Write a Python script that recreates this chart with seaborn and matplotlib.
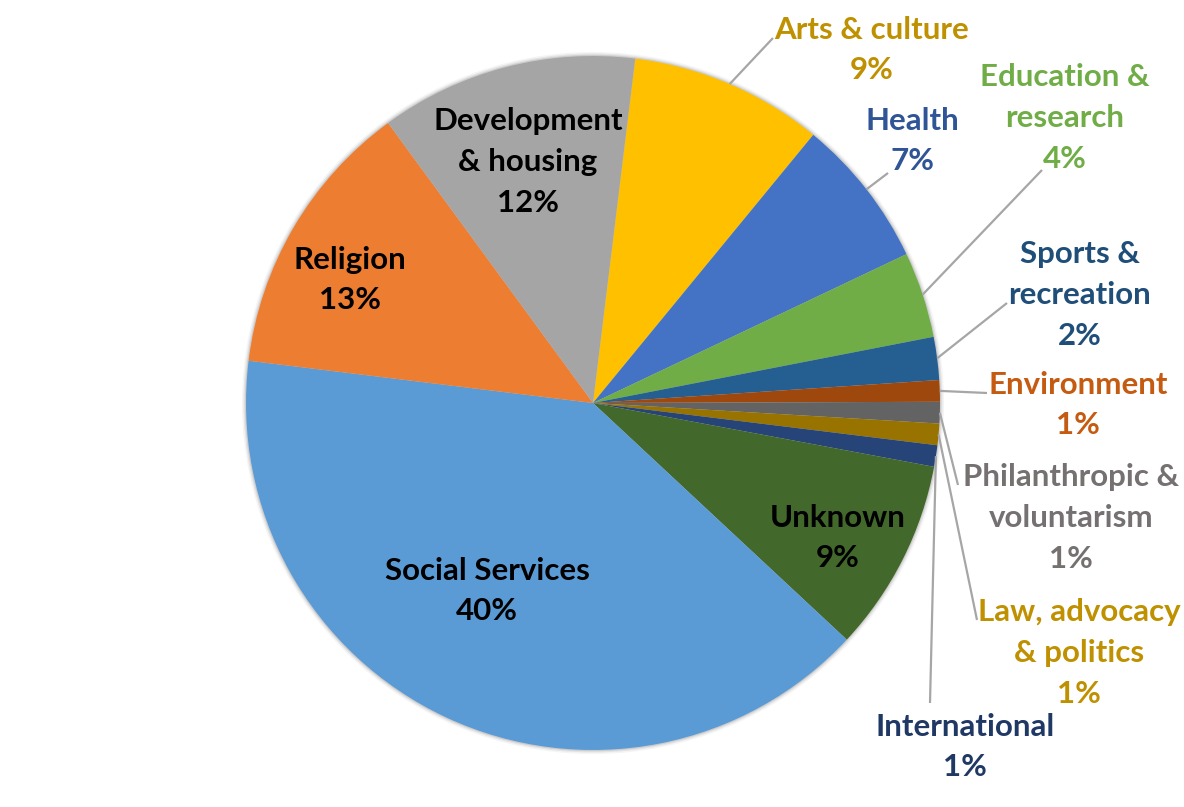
import matplotlib
matplotlib.use("Agg")
import matplotlib.pyplot as plt
import seaborn as sns
import numpy as np
from matplotlib.patches import Circle

# Sector names (in drawing order, clockwise from the top) and their shares in percent
categories = [
    "Arts & culture", "Health", "Education &\nresearch", "Sports &\nrecreation",
    "Environment", "Philanthropic &\nvoluntarism", "Law, advocacy\n& politics",
    "International", "Unknown", "Social Services", "Religion", "Development\n& housing",
]
shares = [9, 7, 4, 2, 1, 1, 1, 1, 9, 40, 13, 12]

slice_colors = [
    "#FFC000", "#4472C4", "#70AD47", "#255E91", "#9E480E", "#636363",
    "#997300", "#264478", "#43682B", "#5B9BD5", "#ED7D31", "#A5A5A5",
]
label_colors = [
    "#BF9000", "#2F5597", "#70AD47", "#1F4E79", "#C55A11", "#767171",
    "#BF9000", "#203864", "#000000", "#000000", "#000000", "#000000",
]

# Layout in pixel units (origin top-left)
W, H = 1184, 807
CX, CY, R = 593, 403, 347
label_xy = [(872, 50), (912, 141), (1065, 118), (1080, 295), (1078, 405),
            (1071, 518), (1079, 653), (965, 747), (838, 538), (487, 591),
            (350, 280), (528, 162)]
leader_end = [(773, 38), (888, 173), (1042, 170), (1007, 303), (987, 393),
              (958, 485), (977, 620), (930, 703), None, None, None, None]

sns.set_theme(style="white")
plt.rcParams["font.family"] = ["Lato", "DejaVu Sans"]

fig = plt.figure(figsize=(W / 100, H / 100), dpi=100)
ax = fig.add_axes([0, 0, 1, 1])


def fy(y):
    return H - y


# soft shadow around the pie rim
for dr, a in [(4, 0.10), (2.5, 0.18), (1.2, 0.30)]:
    ax.add_patch(Circle((CX, fy(CY)), R + dr, color="#9a9a9a", alpha=a, lw=0, zorder=0))

wedges, _ = ax.pie(
    shares, colors=slice_colors, startangle=90 - 7, counterclock=False,
    center=(CX, fy(CY)), radius=R, frame=True,
    wedgeprops=dict(linewidth=0),
)
ax.set_xlim(0, W)
ax.set_ylim(0, H)
ax.set_aspect("equal")
ax.axis("off")

for w, name, val, (lx, ly), end, col in zip(
        wedges, categories, shares, label_xy, leader_end, label_colors):
    ax.text(lx, fy(ly), f"{name}\n{val}%", ha="center", va="center",
            fontsize=22.5, fontweight="bold", color=col, linespacing=1.56, zorder=5)
    if end is not None:
        mid = np.deg2rad((w.theta1 + w.theta2) / 2)
        sx = CX + R * np.cos(mid)
        sy = fy(CY) + R * np.sin(mid)
        ax.plot([sx, end[0]], [sy, fy(end[1])], color="#A6A6A6", lw=1.6,
                solid_capstyle="butt", zorder=4)

fig.savefig("out.png", dpi=100, facecolor="white")
